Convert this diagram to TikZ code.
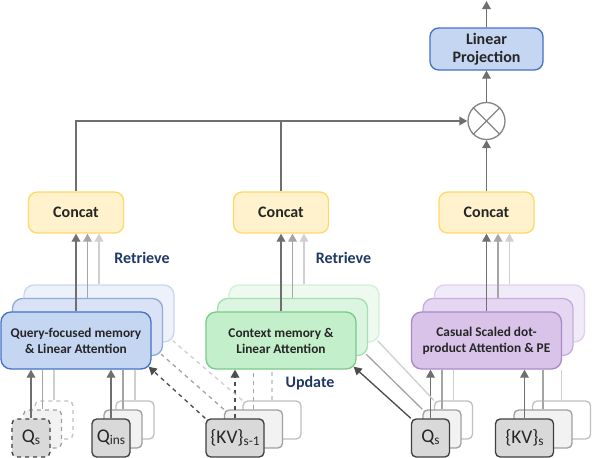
\documentclass[tikz,border=0pt]{standalone}
\usepackage{fontspec}
\setmainfont{Carlito}
\usetikzlibrary{arrows.meta,calc}

\definecolor{lineD}{HTML}{6F6F6F}
\definecolor{lineM}{HTML}{A5A5A5}
\definecolor{lineL}{HTML}{CFCFCF}
\definecolor{lineK}{HTML}{4D4D4D}
\definecolor{txt}{HTML}{262626}
\definecolor{navy}{HTML}{1F3864}
\definecolor{concatF}{HTML}{FFF2CC}
\definecolor{concatB}{HTML}{FFD966}
\definecolor{blueF1}{HTML}{C5D6F2}
\definecolor{blueB1}{HTML}{4472C4}
\definecolor{blueF2}{HTML}{DAE3F5}
\definecolor{blueB2}{HTML}{8FAADC}
\definecolor{blueF3}{HTML}{ECF1FA}
\definecolor{blueB3}{HTML}{C9D7F0}
\definecolor{greenF1}{HTML}{C3F0CA}
\definecolor{greenB1}{HTML}{7CC98B}
\definecolor{greenF2}{HTML}{DCF5E1}
\definecolor{greenB2}{HTML}{A9DDB3}
\definecolor{greenF3}{HTML}{EEFAF0}
\definecolor{greenB3}{HTML}{D3EFD8}
\definecolor{purpF1}{HTML}{D9C3E9}
\definecolor{purpB1}{HTML}{A989CA}
\definecolor{purpF2}{HTML}{E5D7F1}
\definecolor{purpB2}{HTML}{C5ADDD}
\definecolor{purpF3}{HTML}{F1EAF8}
\definecolor{purpB3}{HTML}{DFD0EC}
\definecolor{inF1}{HTML}{D9D9D9}
\definecolor{inB1}{HTML}{404040}
\definecolor{inF2}{HTML}{F2F2F2}
\definecolor{inB2}{HTML}{A0A0A0}
\definecolor{inF3}{HTML}{FFFFFF}
\definecolor{inB3}{HTML}{C0C0C0}

\newcommand{\lowsub}[1]{\raisebox{-1.5pt}{\fontsize{10}{11}\selectfont #1}}

\begin{document}
\begin{tikzpicture}[x=0.75pt,y=-0.75pt,
  tip/.style={-{Triangle[length=6pt,width=6.5pt]}},
  lnD/.style={draw=lineD,line width=1pt},
  lnM/.style={draw=lineM,line width=1pt},
  lnL/.style={draw=lineL,line width=1pt},
  lnK/.style={draw=lineK,line width=1pt},
  arrD/.style={lnD,tip},
  arrM/.style={lnM,tip},
  arrL/.style={lnL,tip},
  arrK/.style={lnK,tip},
  mem/.style={rectangle,rounded corners=7.5pt,minimum width=112.5pt,
    minimum height=42.75pt,line width=1pt,align=center,text=txt,
    font=\fontsize{10}{12}\selectfont\bfseries},
  inbox/.style={rectangle,rounded corners=3.5pt,minimum width=28.5pt,
    minimum height=28.5pt,line width=1pt,inner sep=0pt,text=txt,
    font=\fontsize{14.5}{16}\selectfont},
  kvbox/.style={inbox,minimum width=43.5pt},
  concat/.style={rectangle,rounded corners=6.5pt,minimum width=71.25pt,
    minimum height=30.75pt,line width=1pt,fill=concatF,draw=concatB,
    text=txt,font=\fontsize{12}{13}\selectfont\bfseries},
  tag/.style={text=navy,font=\fontsize{12}{13}\selectfont\bfseries}]
\useasboundingbox (0,0) rectangle (594,458);

% inputs
\foreach \i in {3,2,1}
{
    \node[inbox,dashed,fill=inF\i,draw=inB\i] (qs\i) at ({31+11.5*(\i-1)},{438-9*(\i-1)}) {};
    \node[inbox,fill=inF\i,draw=inB\i] (qi\i) at ({111+12*(\i-1)},{438-9*(\i-1)}) {};
    \node[kvbox,fill=inF\i,draw=inB\i] (kp\i) at ({235+18.5*(\i-1)},{438-9*(\i-1)}) {};
    \node[inbox,fill=inF\i,draw=inB\i] (qr\i) at ({430.5+11.5*(\i-1)},{438-9*(\i-1)}) {};
    \node[kvbox,fill=inF\i,draw=inB\i] (kc\i) at ({524.5+18.5*(\i-1)},{438-9*(\i-1)}) {};
}
\node[inbox] at (qs1) {Q\lowsub{s}};
\node[inbox] at (qi1) {Q\lowsub{ins}};
\node[kvbox] at (kp1) {\{KV\}\lowsub{s-1}};
\node[inbox] at (qr1) {Q\lowsub{s}};
\node[kvbox] at (kc1) {\{KV\}\lowsub{s}};

% memory stacks
\foreach \i in {3,2}
{
    \node[mem,fill=blueF\i,draw=blueB\i] (qm\i) at ({76+11.5*(\i-1)},{340.5-13.5*(\i-1)}) {};
    \node[mem,fill=greenF\i,draw=greenB\i] (gm\i) at ({281+11.5*(\i-1)},{340.5-13.5*(\i-1)}) {};
    \node[mem,fill=purpF\i,draw=purpB\i] (pm\i) at ({486.5+11.5*(\i-1)},{340.5-13.5*(\i-1)}) {};
}
\node[mem,fill=blueF1,draw=blueB1] (qm1) at (76,340.5) {Query-focused memory\\\& Linear Attention};
\node[mem,fill=greenF1,draw=greenB1] (gm1) at (281,340.5) {Context memory \&\\Linear Attention};
\node[mem,fill=purpF1,draw=purpB1] (pm1) at (486.5,340.5) {Casual Scaled dot-\\product Attention \& PE};

% inputs into memory
\foreach \s/\m in {qs/qm,qi/qm,qr/pm,kc/pm}
{
    \draw[arrD] (\s1.north) -- (\s1.north |- \m1.south);
    \draw[lnM] (\s2.north) -- (\s2.north |- \m1.south);
    \draw[lnL] (\s3.north) -- (\s3.north |- \m1.south);
}
\draw[arrK,dashed] (kp1.north) -- (kp1.north |- gm1.south);
\draw[lnM,dashed] (kp2.north) -- (kp2.north |- gm1.south);
\draw[lnL,dashed] (kp3.north) -- (kp3.north |- gm1.south);

\draw[arrK,dashed] (kp1.north west) -- ($(qm1.south east)+(-3,-3)$);
\draw[lnM,dashed] (kp2.north west) -- ($(qm2.south east)+(-2,-2)$);
\draw[lnL,dashed] (kp3.north west) -- ($(qm3.south east)+(-2,-2)$);
\draw[arrK] (qr1.north west) -- ($(gm1.south east)+(-3,-3)$);
\draw[lnM] (qr2.north west) -- ($(gm2.south east)+(-2,-2)$);
\draw[lnL] (qr3.north west) -- ($(gm3.south east)+(-2,-2)$);

% concat
\node[concat] (cl) at (76,212.5) {Concat};
\node[concat] (cm) at (281,212.5) {Concat};
\node[concat] (cr) at (486.5,212.5) {Concat};
\foreach \m/\c in {qm/cl,gm/cm,pm/cr}
{
    \draw[arrD] (\m1.north) -- (\m1.north |- \c.south);
    \draw[arrM] (\m2.north) -- (\m2.north |- \c.south);
    \draw[arrL] (\m3.north) -- (\m3.north |- \c.south);
}
\node[tag] (ret1) at (142,258) {Retrieve};
\node[tag] (ret2) at (343.5,258) {Retrieve};
\node[tag] (upd) at (310,383) {Update};

% output
\node[circle,draw=lineD!85,line width=1pt,minimum size=27.75pt,inner sep=0pt] (mul) at (486.5,121) {};
\draw[draw=lineD!85,line width=1pt] (mul.north west) -- (mul.south east)
    (mul.north east) -- (mul.south west);
\node[rectangle,rounded corners=6.5pt,minimum width=84.75pt,minimum height=31.5pt,
    line width=1pt,fill=blueF1,draw=blueB1,align=center,text=txt,
    font=\fontsize{12}{13.5}\selectfont\bfseries] (lp) at (486.5,49) {Linear\\Projection};
\coordinate (out) at (486.5,1);
\draw[arrD] (cl.north) |- (mul.west);
\draw[lnD] (cm.north) -- (cm.north |- mul.west);
\draw[arrD] (cr.north) -- (mul.south);
\draw[arrD] (mul.north) -- (lp.south);
\draw[arrD] (lp.north) -- (out);
\end{tikzpicture}
\end{document}
